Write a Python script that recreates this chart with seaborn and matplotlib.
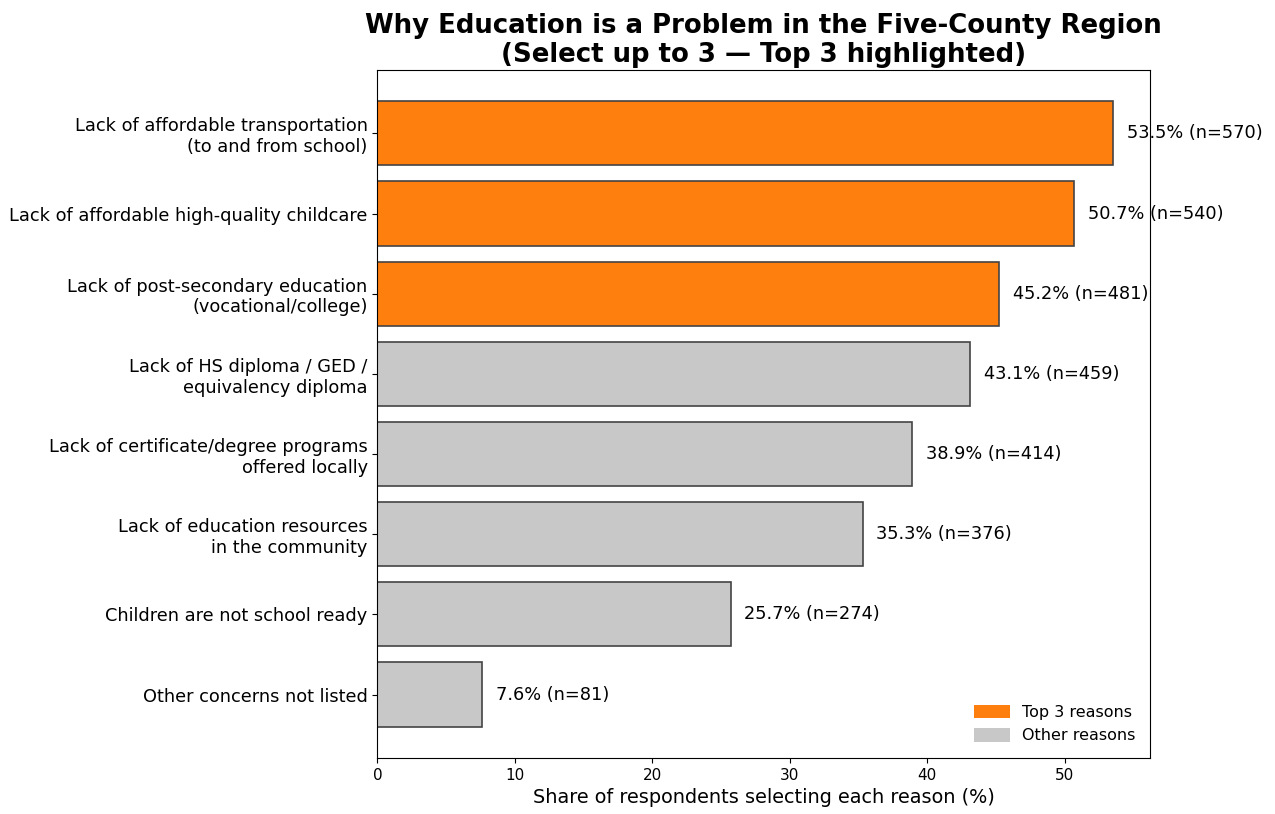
import matplotlib
matplotlib.use("Agg")
import matplotlib.pyplot as plt
import seaborn as sns
import pandas as pd
from matplotlib.patches import Patch

# Données
reasons = [
    "Lack of affordable transportation\n(to and from school)",
    "Lack of affordable high-quality childcare",
    "Lack of post-secondary education\n(vocational/college)",
    "Lack of HS diploma / GED /\nequivalency diploma",
    "Lack of certificate/degree programs\noffered locally",
    "Lack of education resources\nin the community",
    "Children are not school ready",
    "Other concerns not listed",
]
share = [53.5, 50.7, 45.2, 43.1, 38.9, 35.3, 25.7, 7.6]
counts = [570, 540, 481, 459, 414, 376, 274, 81]
groups = ["Top 3 reasons"] * 3 + ["Other reasons"] * 5

colors = {"Top 3 reasons": "#ff7f0e", "Other reasons": "#c8c8c8"}

df = pd.DataFrame({"reason": reasons, "share": share, "n": counts, "group": groups})

plt.rcParams['font.family'] = ['DejaVu Sans']

fig, ax = plt.subplots(figsize=(12.75, 8.14), dpi=100)
sns.barplot(data=df, y="reason", x="share", hue="group", palette=colors,
            dodge=False, width=0.8, edgecolor="#444444", linewidth=1.2,
            legend=False, ax=ax, saturation=1)

for i, (v, n) in enumerate(zip(share, counts)):
    ax.text(v + 1.0, i, f"{v}% (n={n})", va="center", ha="left", fontsize=12.8,
            color="black", zorder=1)

ax.set_xlim(0, 56.2)
ax.set_ylim(7.79, -0.79)
ax.set_ylabel("")
ax.set_xlabel("Share of respondents selecting each reason (%)", fontsize=13.9)
ax.tick_params(axis="y", labelsize=12.8)
ax.tick_params(axis="x", labelsize=11)
ax.set_title("Why Education is a Problem in the Five-County Region\n(Select up to 3 — Top 3 highlighted)",
             fontsize=18.7, fontweight="bold", linespacing=1.12, pad=6)

handles = [Patch(facecolor=colors["Top 3 reasons"], label="Top 3 reasons"),
           Patch(facecolor=colors["Other reasons"], label="Other reasons")]
ax.legend(handles=handles, loc="lower right", frameon=False, fontsize=11.5,
          handlelength=2.2, handleheight=0.9)

fig.subplots_adjust(left=0.296, right=0.902, top=0.914, bottom=0.069)
fig.savefig("out.png", dpi=100)
